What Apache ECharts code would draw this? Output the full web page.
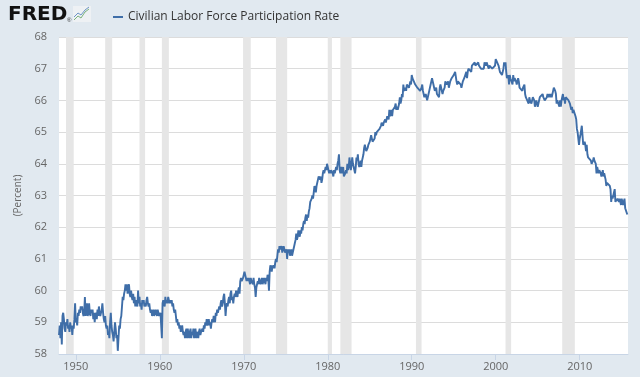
<!DOCTYPE html>
<html>
<head>
<meta charset="utf-8">
<script src="https://cdn.jsdelivr.net/npm/echarts@6/dist/echarts.min.js"></script>
<style>
  html, body { margin: 0; padding: 0; background: #e1e9f0; }
  #chart { width: 640px; height: 377px; }
</style>
</head>
<body>
<div id="chart"></div>
<script>
// monthly values, Jan 1948 onward (percent)
const startYear = 1948;
const rate = [
  58.6, 58.9, 58.5, 59.0, 58.3, 59.2, 59.3, 59.1, 58.8, 58.7, 59.0, 58.9, // 1948
  59.1, 58.8, 58.9, 58.7, 59.0, 58.8, 58.9, 58.6, 58.9, 58.8, 59.1, 59.6, // 1949
  59.0, 59.1, 58.9, 59.3, 59.2, 59.4, 59.3, 59.5, 59.4, 59.5, 59.3, 59.2, // 1950
  59.3, 59.8, 59.2, 59.4, 59.6, 59.2, 59.3, 59.6, 59.3, 59.2, 59.4, 59.3, // 1951
  59.4, 59.1, 59.3, 59.0, 59.3, 59.2, 59.1, 59.4, 59.2, 59.5, 59.3, 59.2, // 1952
  59.2, 59.4, 59.6, 59.3, 59.1, 59.0, 59.2, 58.9, 58.8, 58.9, 58.6, 58.7, // 1953
  58.5, 59.0, 59.3, 58.9, 58.7, 58.6, 58.4, 58.7, 59.0, 58.8, 58.5, 58.6, // 1954
  58.1, 58.5, 58.9, 58.8, 59.1, 59.2, 59.5, 59.8, 59.7, 59.9, 60.0, 60.2, // 1955
  60.0, 60.2, 59.9, 60.1, 60.2, 59.9, 59.8, 60.0, 59.8, 59.7, 59.9, 59.6, // 1956
  59.8, 59.5, 59.7, 59.6, 59.5, 60.0, 59.6, 59.8, 59.5, 59.6, 59.4, 59.7, // 1957
  59.6, 59.7, 59.5, 59.6, 59.5, 59.7, 59.8, 59.6, 59.5, 59.6, 59.4, 59.3, // 1958
  59.4, 59.2, 59.3, 59.4, 59.2, 59.3, 59.4, 59.3, 59.2, 59.4, 59.3, 59.2, // 1959
  59.2, 59.3, 59.3, 58.5, 59.6, 59.7, 59.6, 59.5, 59.8, 59.6, 59.7, 59.6, // 1960
  59.8, 59.7, 59.6, 59.7, 59.6, 59.7, 59.5, 59.6, 59.4, 59.3, 59.4, 59.2, // 1961
  59.0, 59.1, 58.9, 59.0, 58.8, 58.9, 58.7, 58.8, 58.9, 58.7, 58.6, 58.7, // 1962
  58.5, 58.7, 58.8, 58.5, 58.8, 58.6, 58.5, 58.7, 58.8, 58.5, 58.7, 58.6, // 1963
  58.8, 58.5, 58.7, 58.8, 58.5, 58.7, 58.6, 58.5, 58.7, 58.8, 58.6, 58.7, // 1964
  58.7, 58.8, 58.7, 58.9, 58.8, 59.0, 58.9, 59.1, 58.9, 59.0, 59.1, 58.9, // 1965
  59.0, 58.8, 59.0, 59.1, 59.0, 59.2, 59.1, 59.0, 59.3, 59.2, 59.4, 59.3, // 1966
  59.3, 59.5, 59.4, 59.6, 59.7, 59.5, 59.6, 59.8, 59.9, 59.6, 59.2, 59.5, // 1967
  59.6, 59.5, 59.7, 59.8, 59.6, 59.9, 60.0, 59.7, 59.8, 59.6, 59.8, 59.9, // 1968
  59.8, 60.0, 59.9, 59.8, 60.0, 60.1, 59.9, 60.3, 60.4, 60.3, 60.3, 60.4, // 1969
  60.4, 60.6, 60.5, 60.4, 60.3, 60.4, 60.3, 60.4, 60.3, 60.2, 60.4, 60.3, // 1970
  60.3, 60.2, 60.4, 60.2, 60.1, 59.8, 60.1, 60.2, 60.3, 60.2, 60.4, 60.3, // 1971
  60.2, 60.3, 60.4, 60.2, 60.3, 60.4, 60.3, 60.2, 60.4, 60.3, 60.5, 60.4, // 1972
  60.0, 60.6, 60.8, 60.7, 60.6, 60.8, 60.7, 60.8, 60.7, 60.9, 61.0, 60.9, // 1973
  61.1, 61.3, 61.2, 61.4, 61.3, 61.3, 61.4, 61.2, 61.3, 61.4, 61.3, 61.2, // 1974
  61.2, 61.3, 61.0, 61.3, 61.2, 61.3, 61.1, 61.2, 61.3, 61.1, 61.2, 61.2, // 1975
  61.4, 61.5, 61.6, 61.8, 61.6, 61.7, 61.9, 61.8, 61.7, 61.9, 61.8, 62.0, // 1976
  61.9, 62.1, 62.2, 62.1, 62.3, 62.4, 62.2, 62.4, 62.3, 62.5, 62.6, 62.8, // 1977
  62.8, 62.9, 63.0, 62.9, 63.1, 63.3, 63.2, 63.1, 63.3, 63.4, 63.5, 63.6, // 1978
  63.6, 63.5, 63.6, 63.4, 63.5, 63.7, 63.8, 63.7, 63.8, 63.9, 63.8, 64.0, // 1979
  63.9, 63.9, 63.7, 63.8, 63.7, 63.8, 63.8, 63.7, 63.6, 63.8, 63.7, 63.7, // 1980
  63.9, 63.8, 64.0, 64.1, 64.3, 63.8, 63.7, 63.9, 63.7, 63.8, 63.9, 63.6, // 1981
  63.6, 63.7, 63.8, 63.7, 64.0, 63.8, 63.9, 64.2, 64.0, 63.8, 64.0, 64.2, // 1982
  64.0, 63.9, 63.8, 63.7, 63.9, 64.2, 64.1, 64.3, 64.0, 63.9, 64.0, 64.1, // 1983
  63.9, 64.1, 64.2, 64.3, 64.5, 64.6, 64.5, 64.4, 64.4, 64.5, 64.6, 64.6, // 1984
  64.7, 64.8, 64.9, 64.8, 64.7, 64.7, 64.7, 64.8, 65.0, 64.9, 65.0, 65.0, // 1985
  65.0, 65.0, 65.1, 65.1, 65.2, 65.3, 65.3, 65.2, 65.3, 65.3, 65.4, 65.3, // 1986
  65.4, 65.5, 65.5, 65.4, 65.7, 65.5, 65.6, 65.7, 65.5, 65.7, 65.7, 65.7, // 1987
  65.8, 65.9, 65.7, 65.8, 65.7, 65.8, 65.9, 66.1, 65.9, 66.0, 66.2, 66.1, // 1988
  66.5, 66.3, 66.3, 66.4, 66.3, 66.5, 66.5, 66.5, 66.4, 66.5, 66.6, 66.5, // 1989
  66.8, 66.7, 66.7, 66.6, 66.6, 66.5, 66.5, 66.5, 66.4, 66.4, 66.4, 66.4, // 1990
  66.3, 66.3, 66.4, 66.5, 66.3, 66.2, 66.1, 66.1, 66.2, 66.1, 66.0, 66.0, // 1991
  66.2, 66.3, 66.3, 66.5, 66.6, 66.7, 66.6, 66.5, 66.4, 66.3, 66.3, 66.4, // 1992
  66.2, 66.2, 66.2, 66.1, 66.4, 66.5, 66.4, 66.4, 66.2, 66.3, 66.3, 66.4, // 1993
  66.6, 66.6, 66.5, 66.5, 66.6, 66.4, 66.4, 66.6, 66.6, 66.7, 66.7, 66.7, // 1994
  66.8, 66.8, 66.9, 66.9, 66.6, 66.5, 66.6, 66.6, 66.6, 66.6, 66.5, 66.4, // 1995
  66.4, 66.6, 66.6, 66.7, 66.7, 66.7, 66.9, 66.7, 66.9, 67.0, 67.0, 67.0, // 1996
  67.0, 66.9, 67.1, 67.1, 67.1, 67.1, 67.2, 67.1, 67.1, 67.1, 67.1, 67.2, // 1997
  67.1, 67.1, 67.1, 67.0, 67.0, 67.0, 67.0, 67.0, 67.2, 67.2, 67.1, 67.2, // 1998
  67.2, 67.2, 67.0, 67.1, 67.1, 67.1, 67.1, 67.0, 67.0, 67.0, 67.0, 67.1, // 1999
  67.3, 67.3, 67.3, 67.3, 67.1, 67.1, 66.9, 66.9, 66.9, 66.8, 66.9, 67.0, // 2000
  67.2, 67.1, 67.2, 66.9, 66.7, 66.7, 66.8, 66.5, 66.8, 66.7, 66.7, 66.7, // 2001
  66.5, 66.8, 66.6, 66.7, 66.7, 66.6, 66.5, 66.6, 66.7, 66.6, 66.4, 66.4, // 2002
  66.4, 66.4, 66.3, 66.4, 66.4, 66.5, 66.2, 66.1, 66.1, 66.1, 66.1, 65.9, // 2003
  66.1, 66.0, 66.0, 65.9, 66.0, 66.1, 66.1, 66.0, 65.8, 65.9, 66.0, 65.9, // 2004
  65.8, 65.9, 65.9, 66.1, 66.1, 66.1, 66.1, 66.2, 66.1, 66.1, 66.0, 66.0, // 2005
  66.0, 66.1, 66.2, 66.1, 66.1, 66.2, 66.1, 66.2, 66.1, 66.2, 66.3, 66.4, // 2006
  66.4, 66.3, 66.2, 65.9, 66.0, 66.0, 66.0, 65.8, 66.0, 65.8, 66.0, 66.0, // 2007
  66.2, 66.0, 66.1, 65.9, 66.1, 66.1, 66.1, 66.1, 66.0, 66.0, 65.9, 65.8, // 2008
  65.7, 65.8, 65.6, 65.7, 65.7, 65.7, 65.5, 65.4, 65.1, 65.0, 65.0, 64.6, // 2009
  64.8, 64.9, 64.9, 65.2, 64.9, 64.6, 64.6, 64.7, 64.6, 64.4, 64.6, 64.3, // 2010
  64.2, 64.2, 64.2, 64.2, 64.1, 64.0, 64.0, 64.1, 64.2, 64.1, 64.1, 64.0, // 2011
  63.7, 63.9, 63.8, 63.7, 63.8, 63.8, 63.7, 63.6, 63.6, 63.8, 63.6, 63.7, // 2012
  63.6, 63.5, 63.3, 63.4, 63.4, 63.4, 63.4, 63.3, 63.2, 62.8, 63.0, 62.9, // 2013
  63.0, 63.0, 63.2, 62.8, 62.8, 62.8, 62.9, 62.9, 62.8, 62.9, 62.9, 62.7, // 2014
  62.9, 62.8, 62.7, 62.8, 62.9, 62.6, 62.6, 62.6, 62.4                    // 2015
];

// NBER recessions as decimal years [start, end]
const recessionStart = [1948.833, 1953.5, 1957.583, 1960.25, 1969.917, 1973.833, 1980.0, 1981.5, 1990.5, 2001.167, 2007.917];
const recessionEnd   = [1949.75, 1954.333, 1958.25, 1961.083, 1970.833, 1975.167, 1980.5, 1982.833, 1991.167, 2001.833, 2009.417];

const yearTicks = [1950, 1960, 1970, 1980, 1990, 2000, 2010];
const seriesName = 'Civilian Labor Force Participation Rate';

const points = rate.map((v, i) => [startYear + i / 12, v]);
const bands = recessionStart.map((s, i) => [{ xAxis: s }, { xAxis: recessionEnd[i] }]);

const chart = echarts.init(document.getElementById('chart'));
const font = '"Open Sans", sans-serif';

chart.setOption({
  backgroundColor: '#e1e9f0',
  animation: false,
  textStyle: { fontFamily: font },
  graphic: [
    { type: 'text', left: 8, top: 5,
      style: { text: 'FRED', font: 'bold 20px "DejaVu Sans"', fill: '#111' } },
    { type: 'text', left: 67, top: 17,
      style: { text: '®', font: '6px "Liberation Sans"', fill: '#333' } },
    { type: 'rect', shape: { x: 73, y: 6, width: 18, height: 16 },
      style: { fill: '#eef1f4' } },
    { type: 'polyline', shape: { points: [[74, 20], [78, 16], [81, 18], [85, 12], [89, 9]] },
      style: { stroke: '#7bb37c', lineWidth: 1, fill: null } },
    { type: 'polyline', shape: { points: [[74, 17], [78, 13], [81, 15], [85, 10], [89, 7]] },
      style: { stroke: '#6d95c6', lineWidth: 1, fill: null } }
  ],
  legend: {
    left: 108, top: 6,
    itemWidth: 10, itemHeight: 2, itemGap: 6,
    icon: 'rect',
    textStyle: { fontSize: 12, color: '#333', fontFamily: font },
    data: [seriesName]
  },
  grid: {
    left: 59, right: 12, top: 37, bottom: 23,
    show: true, backgroundColor: '#ffffff', borderWidth: 0
  },
  xAxis: {
    type: 'value',
    min: 1948, max: 2015.75,
    axisLine: { show: true, lineStyle: { color: '#c8d5e6', width: 1 } },
    axisTick: { show: true, length: 6, lineStyle: { color: '#c8d5e6' }, customValues: yearTicks },
    axisLabel: { customValues: yearTicks, color: '#666', fontSize: 11, margin: 7,
      formatter: v => String(v) },
    splitLine: { show: false }
  },
  yAxis: {
    type: 'value',
    min: 58, max: 68, interval: 1,
    name: '(Percent)',
    nameLocation: 'middle',
    nameGap: 35,
    nameTextStyle: { color: '#666', fontSize: 10 },
    axisLine: { show: false },
    axisTick: { show: false },
    axisLabel: { color: '#666', fontSize: 11, margin: 12 },
    splitLine: { lineStyle: { color: '#dcdcdc', width: 1 } }
  },
  series: [{
    name: seriesName,
    type: 'line',
    data: points,
    showSymbol: false,
    symbol: 'none',
    lineStyle: { color: '#3f6ea8', width: 1.9 },
    itemStyle: { color: '#3f6ea8' },
    markArea: {
      silent: true,
      itemStyle: { color: '#e6e6e6' },
      data: bands
    }
  }]
});
</script>
</body>
</html>
